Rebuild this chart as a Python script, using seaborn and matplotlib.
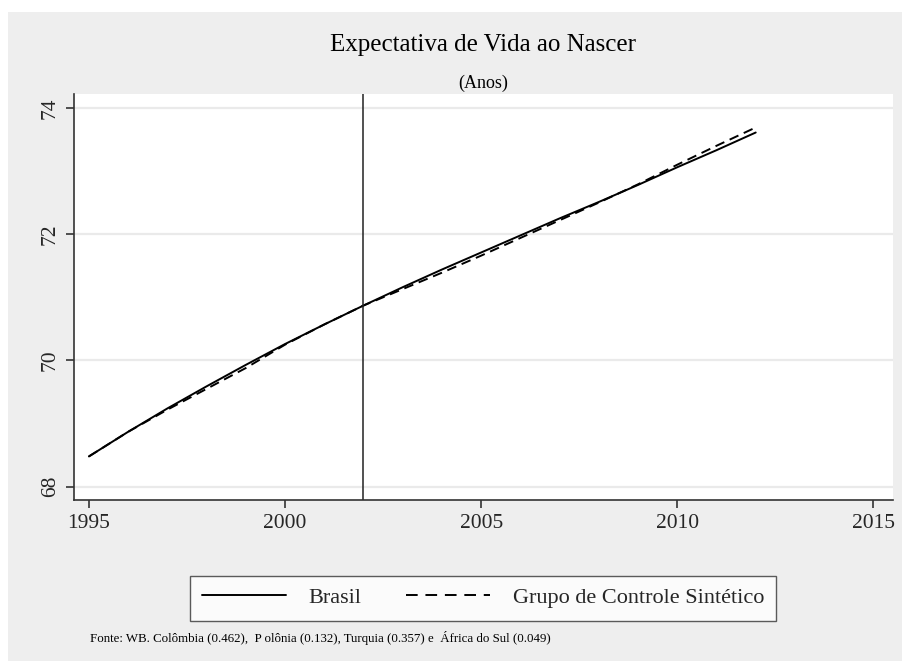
import matplotlib
matplotlib.use("Agg")
import matplotlib.pyplot as plt
import seaborn as sns
import pandas as pd
from matplotlib.patches import Rectangle
from matplotlib.lines import Line2D

anos = list(range(1995, 2013))
brasil = [68.48, 68.87, 69.24, 69.59, 69.93, 70.26, 70.57, 70.87, 71.16, 71.44,
          71.71, 71.98, 72.25, 72.51, 72.78, 73.06, 73.33, 73.61]
sintetico = [68.48, 68.87, 69.22, 69.55, 69.88, 70.25, 70.57, 70.87, 71.13, 71.39,
             71.66, 71.94, 72.22, 72.50, 72.79, 73.10, 73.40, 73.69]
x_ticks = [1995, 2000, 2005, 2010, 2015]
y_ticks = [68, 70, 72, 74]
ano_tratamento = 2002

df = pd.DataFrame({
    'ano': anos * 2,
    'valor': brasil + sintetico,
    'serie': ['Brasil'] * len(anos) + ['Grupo de Controle Sintético'] * len(anos),
})

sns.set_theme(style="white")
plt.rcParams['font.family'] = ['Liberation Serif', 'DejaVu Serif']

fig = plt.figure(figsize=(9.02, 6.61), dpi=100)
fig.patch.set_facecolor('white')
# fundo cinza estilo Stata
fig.patches.append(Rectangle((8 / 902, 0), 1, 1 - 12 / 661, transform=fig.transFigure,
                             facecolor='#eeeeee', edgecolor='none', zorder=-5))

ax = fig.add_axes([74 / 902, 1 - 500 / 661, (893 - 74) / 902, (500 - 94) / 661])
ax.set_zorder(2)
ax.set_facecolor('white')

sns.lineplot(data=df, x='ano', y='valor', style='serie', color='black',
             dashes={'Brasil': '', 'Grupo de Controle Sintético': (5, 3)},
             linewidth=1.4, ax=ax, legend=False)
ax.axvline(ano_tratamento, color='#222222', linewidth=1.1)

ax.set_xlim(1994.62, 2015.5)
ax.set_ylim(67.79, 74.22)
ax.set_xticks(x_ticks)
ax.set_yticks(y_ticks)
ax.set_yticklabels([str(v) for v in y_ticks], rotation=90, va='center')
ax.tick_params(axis='both', labelsize=15.5, length=6, width=1.2, color='#333333',
               direction='out', left=True, bottom=True, pad=4)
ax.yaxis.grid(True, color='#eaeaea', linewidth=1.6)
ax.set_axisbelow(True)
ax.set_xlabel('')
ax.set_ylabel('')
for s in ['top', 'right']:
    ax.spines[s].set_visible(False)
for s in ['left', 'bottom']:
    ax.spines[s].set_color('#333333')
    ax.spines[s].set_linewidth(1.2)

fig.text(483 / 902, 1 - 45 / 661, 'Expectativa de Vida ao Nascer', ha='center', va='center',
         fontsize=18, color='black')
fig.text(483 / 902, 1 - 83 / 661, '(Anos)', ha='center', va='center', fontsize=13, color='black')

handles = [Line2D([], [], color='black', linewidth=1.4),
           Line2D([], [], color='black', linewidth=1.4, linestyle=(0, (6, 4)))]
leg = fig.legend(handles, ['Brasil', 'Grupo de Controle Sintético'], ncol=2, loc='center',
                 bbox_to_anchor=(483 / 902, 1 - 598 / 661), fontsize=16, frameon=True,
                 fancybox=False, handlelength=3.8, columnspacing=2.0, borderpad=0.55,
                 handletextpad=1.0)
leg.get_frame().set_edgecolor('#333333')
leg.get_frame().set_facecolor('white')
leg.get_frame().set_linewidth(1.0)

fig.text(90 / 902, 1 - 638 / 661,
         'Fonte: WB. Colômbia (0.462),  P olônia (0.132), Turquia (0.357) e  África do Sul (0.049)',
         ha='left', va='center', fontsize=9.3, color='black')

fig.savefig('out.png', dpi=100, facecolor=fig.get_facecolor())
